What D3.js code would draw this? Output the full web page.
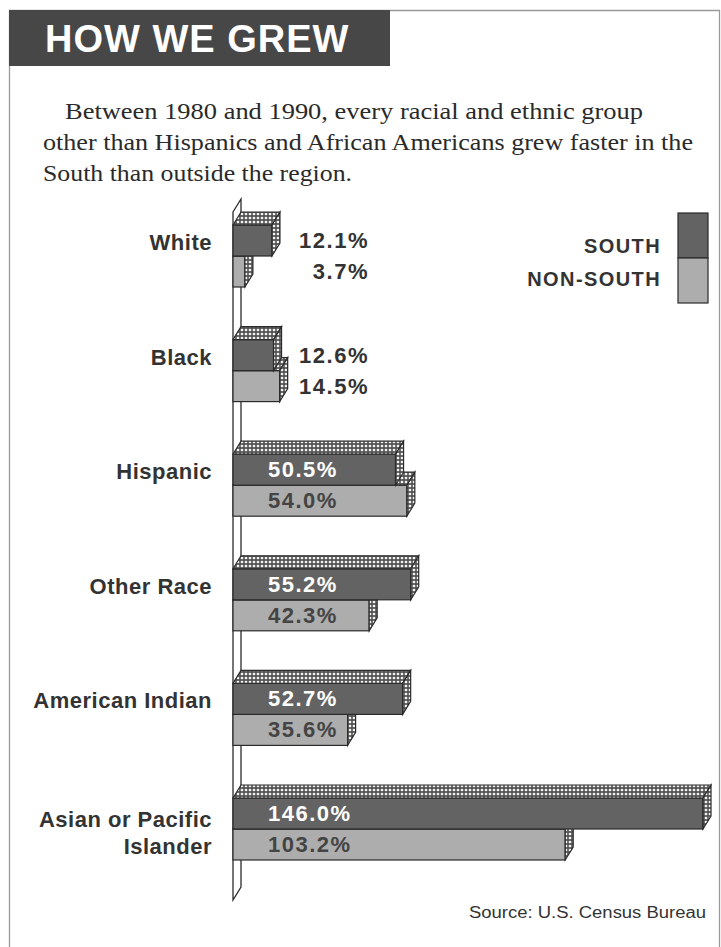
<!DOCTYPE html>
<html>
<head>
<meta charset="utf-8">
<script src="https://cdn.jsdelivr.net/npm/d3@7"></script>
<style>
  html, body { margin: 0; padding: 0; background: #fff; }
  svg { display: block; }
</style>
</head>
<body>
<script>
// ---- data ----
const categories = ["White", "Black", "Hispanic", "Other Race", "American Indian", "Asian or Pacific Islander"];
const labelLines = [["White"], ["Black"], ["Hispanic"], ["Other Race"], ["American Indian"], ["Asian or Pacific", "Islander"]];
const southValues = [12.1, 12.6, 50.5, 55.2, 52.7, 146.0];
const nonSouthValues = [3.7, 14.5, 54.0, 42.3, 35.6, 103.2];
const seriesNames = ["SOUTH", "NON-SOUTH"];
const titleText = "HOW WE GREW";
const subtitleLines = [
  "Between 1980 and 1990, every racial and ethnic group",
  "other than Hispanics and African Americans grew faster in the",
  "South than outside the region."
];
const sourceText = "Source: U.S. Census Bureau";

// ---- layout ----
const W = 721, H = 947;
const svg = d3.select("body").append("svg").attr("width", W).attr("height", H);
const defs = svg.append("defs");
const pat = defs.append("pattern").attr("id", "dots").attr("width", 4).attr("height", 4)
  .attr("patternUnits", "userSpaceOnUse");
pat.append("rect").attr("width", 4).attr("height", 4).attr("fill", "#555");
pat.append("circle").attr("cx", 2).attr("cy", 2).attr("r", 1.35).attr("fill", "#f4f4f4");

const darkFill = "#636363", lightFill = "#adadad", edge = "#2b2b2b";
const sansBold = "'Liberation Sans', Arial, sans-serif";

svg.append("rect").attr("width", W).attr("height", H).attr("fill", "#fff");

// frame
svg.append("path").attr("d", "M9.5,947 L9.5,10.5 L719.5,10.5 L719.5,947")
  .attr("fill", "none").attr("stroke", "#9a9a9a").attr("stroke-width", 1.3);

// title box
svg.append("rect").attr("x", 9).attr("y", 10).attr("width", 381).attr("height", 56).attr("fill", "#474747");
svg.append("text").attr("x", 45).attr("y", 52).text(titleText)
  .attr("font-family", sansBold).attr("font-weight", "bold").attr("font-size", 38)
  .attr("letter-spacing", 1).attr("fill", "#fff");

// subtitle
const subX = [65, 43, 43], subY = [119, 150, 181], subLen = [578, 650, 309];
subtitleLines.forEach((t, i) => {
  svg.append("text").attr("x", subX[i]).attr("y", subY[i]).text(t)
    .attr("font-family", "'Liberation Serif', 'Times New Roman', serif")
    .attr("font-size", 23).attr("fill", "#2a2a2a")
    .attr("textLength", subLen[i]).attr("lengthAdjust", "spacingAndGlyphs");
});

// scales
const x = d3.scaleLinear().domain([0, 146]).range([233, 703]);
const y = d3.scalePoint().domain(categories).range([225, 798]);
const barH = 31, dx = 8, dy = -13;

// wall (axis plane)
const wTop = y(categories[0]) + dy, wBot = 900;
svg.append("path")
  .attr("d", `M${x(0)},${wTop} L${x(0) + dx},${wTop + dy} L${x(0) + dx},${wBot + dy} L${x(0)},${wBot} Z`)
  .attr("fill", "#fff").attr("stroke", edge).attr("stroke-width", 1.3);

function drawBar(g, y0, v, fill) {
  const x0 = x(0), x1 = x(v);
  g.append("rect").attr("x", x0).attr("y", y0).attr("width", x1 - x0).attr("height", barH)
    .attr("fill", fill).attr("stroke", edge).attr("stroke-width", 1.2);
  g.append("path")
    .attr("d", `M${x0},${y0} L${x0 + dx},${y0 + dy} L${x1 + dx},${y0 + dy} L${x1},${y0} Z`)
    .attr("fill", "url(#dots)").attr("stroke", edge).attr("stroke-width", 1.2);
  g.append("path")
    .attr("d", `M${x1},${y0} L${x1 + dx},${y0 + dy} L${x1 + dx},${y0 + barH + dy} L${x1},${y0 + barH} Z`)
    .attr("fill", "url(#dots)").attr("stroke", edge).attr("stroke-width", 1.2);
}

const valueFont = (sel) => sel.attr("font-family", sansBold).attr("font-weight", "bold")
  .attr("font-size", 22).attr("letter-spacing", 1.5);

categories.forEach((c, i) => {
  const g = svg.append("g");
  const sTop = y(c), nTop = sTop + barH;
  drawBar(g, nTop, nonSouthValues[i], lightFill);
  drawBar(g, sTop, southValues[i], darkFill);

  // value labels
  [[southValues[i], sTop, "#fff"], [nonSouthValues[i], nTop, "#444"]].forEach(([v, top, col]) => {
    const inside = Math.max(southValues[i], nonSouthValues[i]) > 20;
    const t = g.append("text").attr("y", top + 23).text(v.toFixed(1) + "%").call(valueFont);
    if (inside) t.attr("x", 268).attr("fill", col);
    else t.attr("x", 369).attr("text-anchor", "end").attr("fill", "#333");
  });

  // category label
  const lines = labelLines[i];
  const base = lines.length > 1 ? sTop + 29 : sTop + 25;
  lines.forEach((ln, k) => {
    svg.append("text").attr("x", 212).attr("y", base + k * 27).attr("text-anchor", "end").text(ln)
      .attr("font-family", sansBold).attr("font-weight", "bold").attr("font-size", 22)
      .attr("letter-spacing", 0.5).attr("fill", "#333");
  });
});

// legend
const leg = svg.append("g");
const legFills = [darkFill, lightFill];
const legY = [213, 258], legText = [253, 286];
seriesNames.forEach((n, i) => {
  leg.append("rect").attr("x", 678).attr("y", legY[i]).attr("width", 30).attr("height", 45)
    .attr("fill", legFills[i]).attr("stroke", edge).attr("stroke-width", 1.2);
  leg.append("text").attr("x", 661).attr("y", legText[i]).attr("text-anchor", "end").text(n)
    .attr("font-family", sansBold).attr("font-weight", "bold").attr("font-size", 20)
    .attr("letter-spacing", 1.4).attr("fill", "#333");
});

// source
svg.append("text").attr("x", 706).attr("y", 918).attr("text-anchor", "end").text(sourceText)
  .attr("font-family", "'Liberation Sans', Arial, sans-serif").attr("font-size", 16)
  .attr("fill", "#333").attr("textLength", 237).attr("lengthAdjust", "spacingAndGlyphs");
</script>
</body>
</html>
